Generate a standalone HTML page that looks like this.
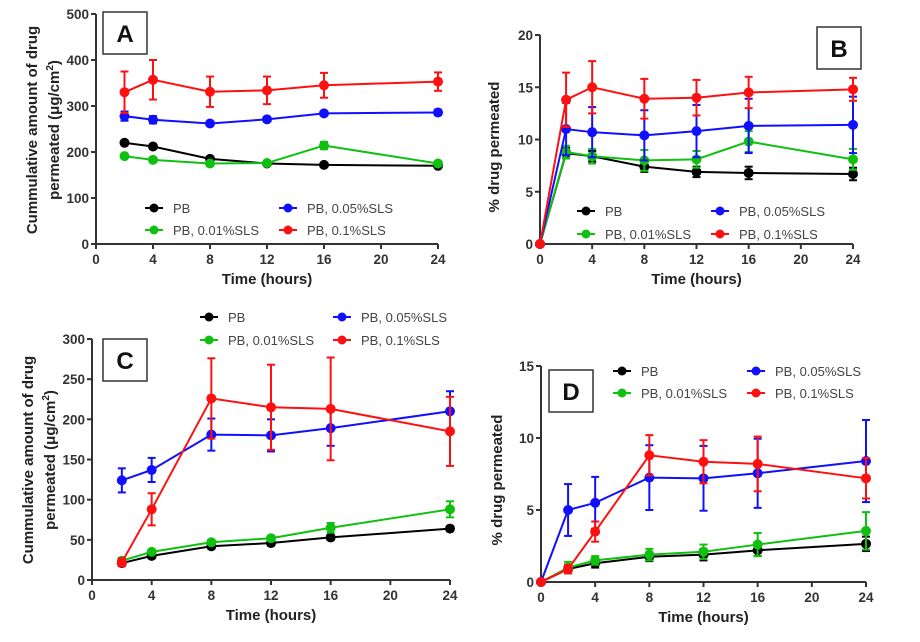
<!DOCTYPE html>
<html><head><meta charset="utf-8">
<style>
html,body{margin:0;padding:0;background:#fff;}
svg{display:block;font-family:"Liberation Sans",sans-serif;}
.tk{font-size:13.5px;font-weight:bold;fill:#333;}
.ax{font-size:15px;font-weight:bold;fill:#222;}
.lg{font-size:13px;fill:#444;}
</style></head>
<body>
<svg id="fig" width="920" height="642" viewBox="0 0 920 642"></svg>
<script>
const timesA = [2,4,8,12,16,24];
const timesB = [0,2,4,8,12,16,24];
const seriesNames = ["PB","PB, 0.05%SLS","PB, 0.01%SLS","PB, 0.1%SLS"];
const seriesColors = ["#000","#1010ff","#10c010","#ff1010"];
const xTicks = [0,4,8,12,16,20,24];
// Panel A
const aPB = [220,212,185,175,172,170];
const aPBerr = [3,5,3,3,3,3];
const aS05 = [278,270,262,271,284,286];
const aS05err = [10,8,3,3,3,6];
const aS01 = [191,183,175,176,214,175];
const aS01err = [3,3,3,3,8,3];
const aS1 = [330,357,331,334,345,353];
const aS1err = [45,43,33,30,27,20];
const aTicks = [0,100,200,300,400,500];
// Panel B
const bPB = [0,8.7,8.4,7.4,6.9,6.8,6.7];
const bPBerr = [0,0.5,0.5,0.5,0.5,0.6,0.6];
const bS05 = [0,11.0,10.7,10.4,10.8,11.3,11.4];
const bS05err = [0,2.5,2.4,2.4,2.5,2.6,2.7];
const bS01 = [0,8.8,8.4,8.0,8.1,9.8,8.1];
const bS01err = [0,0.6,0.7,1.0,0.8,1.0,1.0];
const bS1 = [0,13.8,15.0,13.9,14.0,14.5,14.8];
const bS1err = [0,2.6,2.5,1.9,1.7,1.5,1.1];
const bTicks = [0,5,10,15,20];
// Panel C
const cPB = [21,30,42,46,53,64];
const cPBerr = [3,3,3,3,3,3];
const cS05 = [124,137,181,180,189,210];
const cS05err = [15,15,20,20,22,25];
const cS01 = [24,35,47,52,65,88];
const cS01err = [3,3,3,3,6,10];
const cS1 = [22,88,226,215,213,185];
const cS1err = [5,20,50,53,64,43];
const cTicks = [0,50,100,150,200,250,300];
// Panel D
const dPB = [0,0.9,1.3,1.75,1.9,2.2,2.65];
const dPBerr = [0,0.3,0.3,0.3,0.4,0.4,0.5];
const dS05 = [0,5.0,5.5,7.25,7.2,7.55,8.4];
const dS05err = [0,1.8,1.8,2.25,2.25,2.4,2.85];
const dS01 = [0,1.0,1.5,1.9,2.1,2.6,3.55];
const dS01err = [0,0.4,0.3,0.4,0.5,0.8,1.3];
const dS1 = [0,0.9,3.5,8.8,8.35,8.2,7.2];
const dS1err = [0,0.3,0.7,1.4,1.5,1.9,1.4];
const dTicks = [0,5,10,15];

const NS="http://www.w3.org/2000/svg";
const fig=document.getElementById('fig');
function mk(tag,attrs,parent){const e=document.createElementNS(NS,tag);for(const k in attrs)e.setAttribute(k,attrs[k]);(parent||fig).appendChild(e);return e;}

function panel(cfg){
  const g=mk('g',{});
  
  
  const sx=v=>cfg.x0+(v-0)/24*(cfg.x1-cfg.x0);
  const sy=v=>cfg.y0-(v/cfg.ymax)*(cfg.y0-cfg.y1);
  // axes
  const ya=mk('line',{x1:cfg.x0,y1:cfg.y1,x2:cfg.x0,y2:cfg.y0,stroke:'#333','stroke-width':2},g);
  
  
  const xa=mk('line',{x1:cfg.x0,y1:cfg.y0,x2:cfg.x1,y2:cfg.y0,stroke:'#333','stroke-width':2},g);
  
  
  cfg.yTicks.forEach(t=>{
    const y=sy(t);
    mk('line',{x1:cfg.x0-5,y1:y,x2:cfg.x0,y2:y,stroke:'#333','stroke-width':2},g);
    const tx=mk('text',{x:cfg.x0-7,y:y+5,'text-anchor':'end',class:'tk'},g);
    tx.textContent=t;
    
    
  });
  xTicks.forEach(t=>{
    const x=sx(t);
    mk('line',{x1:x,y1:cfg.y0,x2:x,y2:cfg.y0+5,stroke:'#333','stroke-width':2},g);
    const tx=mk('text',{x:x,y:cfg.y0+20,'text-anchor':'middle',class:'tk'},g);
    tx.textContent=t;
    
    
  });
  const xl=mk('text',{x:(cfg.x0+cfg.x1)/2,y:cfg.y0+40,'text-anchor':'middle',class:'ax'},g);
  xl.textContent='Time (hours)';
  
  
  cfg.ytitle.forEach((line,i)=>{
    const x=cfg.ytx+i*22, y=cfg.tyc;
    const t=mk('text',{x:x,y:y,'text-anchor':'middle',class:'ax',transform:'rotate(-90 '+x+' '+y+')'},g);
    t.innerHTML=line;
    
    
  });
  // label box
  const bx=mk('rect',{x:cfg.bx,y:cfg.by,width:44,height:42,fill:'#fff',stroke:'#333','stroke-width':1.5},g);
  
  
  const bt=mk('text',{x:cfg.bx+22,y:cfg.by+30,'text-anchor':'middle','font-size':'24px','font-weight':'bold',fill:'#111'},g);
  bt.textContent=cfg.id;
  
  
  // series (draw order: black, green, blue, red)
  const order=[0,2,1,3];
  order.forEach(si=>{
    const vals=cfg.series[si], errs=cfg.errs[si], col=seriesColors[si];
    const sg=mk('g',{},g);
    
    
    vals.forEach((v,i)=>{
      const e=errs[i]; if(!e) return;
      const x=sx(cfg.times[i]);
      mk('line',{x1:x,y1:sy(v+e),x2:x,y2:sy(v-e),stroke:col,'stroke-width':2},sg);
      mk('line',{x1:x-4,y1:sy(v+e),x2:x+4,y2:sy(v+e),stroke:col,'stroke-width':2},sg);
      mk('line',{x1:x-4,y1:sy(v-e),x2:x+4,y2:sy(v-e),stroke:col,'stroke-width':2},sg);
    });
    const pl=mk('polyline',{points:vals.map((v,i)=>sx(cfg.times[i])+','+sy(v)).join(' '),fill:'none',stroke:col,'stroke-width':2},sg);
    
    
    vals.forEach((v,i)=>{
      const c=mk('circle',{cx:sx(cfg.times[i]),cy:sy(v),r:5,fill:col},sg);
      
      
    });
  });
  // legend
  const lgd=mk('g',{},g);
  
  
  const pos=[[cfg.lx1,cfg.ly1],[cfg.lx2,cfg.ly1],[cfg.lx1,cfg.ly2],[cfg.lx2,cfg.ly2]];
  pos.forEach((p,k)=>{
    const si=[0,1,2,3][k];
    const eg=mk('g',{},lgd);
    
    
    mk('line',{x1:p[0],y1:p[1],x2:p[0]+18,y2:p[1],stroke:seriesColors[si],'stroke-width':2},eg);
    mk('circle',{cx:p[0]+9,cy:p[1],r:4.5,fill:seriesColors[si]},eg);
    const t=mk('text',{x:p[0]+28,y:p[1]+5,class:'lg'},eg);
    t.textContent=seriesNames[si];
  });
}

const umTitle=['Cummulative amount of drug','permeated (μg/cm<tspan dy="-6" font-size="10">2</tspan><tspan dy="6">)</tspan>'];
panel({id:'A',x0:96,x1:438,y0:244,y1:14,ymax:500,yTicks:aTicks,times:timesA,
  series:[aPB,aS05,aS01,aS1],errs:[aPBerr,aS05err,aS01err,aS1err],
  ytitle:umTitle,ytx:37,tyc:130,bx:103,by:12,lx1:145,lx2:279,ly1:208,ly2:230});
panel({id:'B',x0:540,x1:853,y0:244,y1:35,ymax:20,yTicks:bTicks,times:timesB,
  series:[bPB,bS05,bS01,bS1],errs:[bPBerr,bS05err,bS01err,bS1err],
  ytitle:['% drug permeated'],ytx:499,tyc:147,bx:817,by:27,lx1:577,lx2:711,ly1:211,ly2:234});
panel({id:'C',x0:92,x1:450,y0:580,y1:339,ymax:300,yTicks:cTicks,times:timesA,
  series:[cPB,cS05,cS01,cS1],errs:[cPBerr,cS05err,cS01err,cS1err],
  ytitle:umTitle,ytx:33,tyc:460,bx:103,by:339,lx1:200,lx2:333,ly1:317,ly2:340});
panel({id:'D',x0:541,x1:866,y0:582,y1:366,ymax:15,yTicks:dTicks,times:timesB,
  series:[dPB,dS05,dS01,dS1],errs:[dPBerr,dS05err,dS01err,dS1err],
  ytitle:['% drug permeated'],ytx:502,tyc:480,bx:549,by:370,lx1:613,lx2:747,ly1:371,ly2:393});
</script>
</body></html>
